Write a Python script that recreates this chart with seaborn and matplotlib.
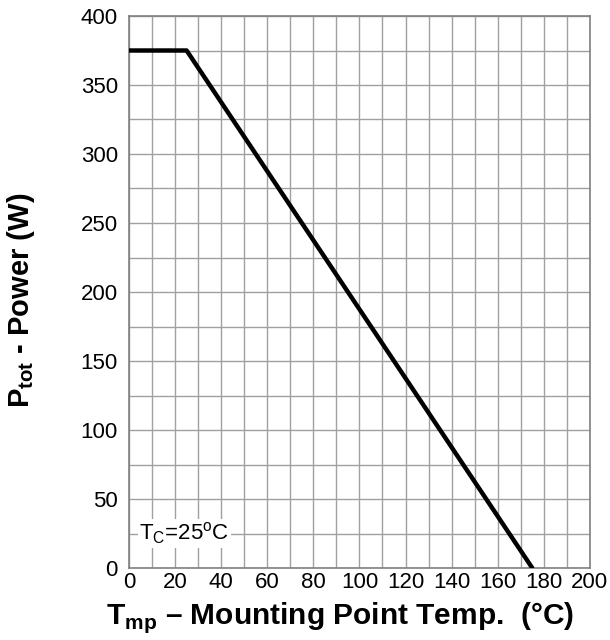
import matplotlib.pyplot as plt
import numpy as np
import pandas as pd
import seaborn as sns

# derating curve
temp_c = [0, 25, 175]
power_w = [375, 375, 0]

x_ticks = list(range(0, 201, 20))
y_ticks = list(range(0, 401, 50))

sns.set_style("white")
plt.rcParams["font.family"] = ["Liberation Sans", "DejaVu Sans"]
plt.rcParams["mathtext.fontset"] = "custom"
plt.rcParams["mathtext.rm"] = "Liberation Sans"
plt.rcParams["mathtext.bf"] = "Liberation Sans:bold"
plt.rcParams["text.color"] = "black"
plt.rcParams["axes.labelcolor"] = "black"

df = pd.DataFrame({"temp": temp_c, "power": power_w})

fig = plt.figure(figsize=(6.1, 6.4), dpi=100)
ax = fig.add_axes([0.2115, 0.1125, 0.7555, 0.8625])

sns.lineplot(data=df, x="temp", y="power", color="black", linewidth=3.2,
             ax=ax, zorder=3)

ax.set_xlim(0, 200)
ax.set_ylim(0, 400)
ax.set_xticks(x_ticks)
ax.set_yticks(y_ticks)
ax.set_xticks(np.arange(0, 201, 10), minor=True)
ax.set_yticks(np.arange(0, 401, 25), minor=True)
ax.grid(which="both", color="#a0a0a0", linewidth=1.0)
ax.tick_params(which="both", length=0, labelsize=16, colors="black")
ax.tick_params(axis="x", pad=3)
ax.tick_params(axis="y", pad=8)
for s in ax.spines.values():
    s.set_color("#808080")
    s.set_linewidth(1.2)

ax.set_xlabel(r"T$_{\mathbf{mp}}$ – Mounting Point Temp.  (°C)",
              fontsize=21.5, fontweight="bold")
ax.xaxis.set_label_coords(0.458, -0.058)
ax.set_ylabel(r"P$_{\mathbf{tot}}$ - Power (W)",
              fontsize=21, fontweight="bold")
ax.yaxis.set_label_coords(-0.2, 0.485)

ax.text(4.5, 25, r"T$_\mathrm{C}$=25$^\mathrm{o}$C", fontsize=16, va="center",
        ha="left", bbox=dict(facecolor="white", edgecolor="none", pad=1),
        zorder=4)

fig.savefig("out.png", dpi=100)
